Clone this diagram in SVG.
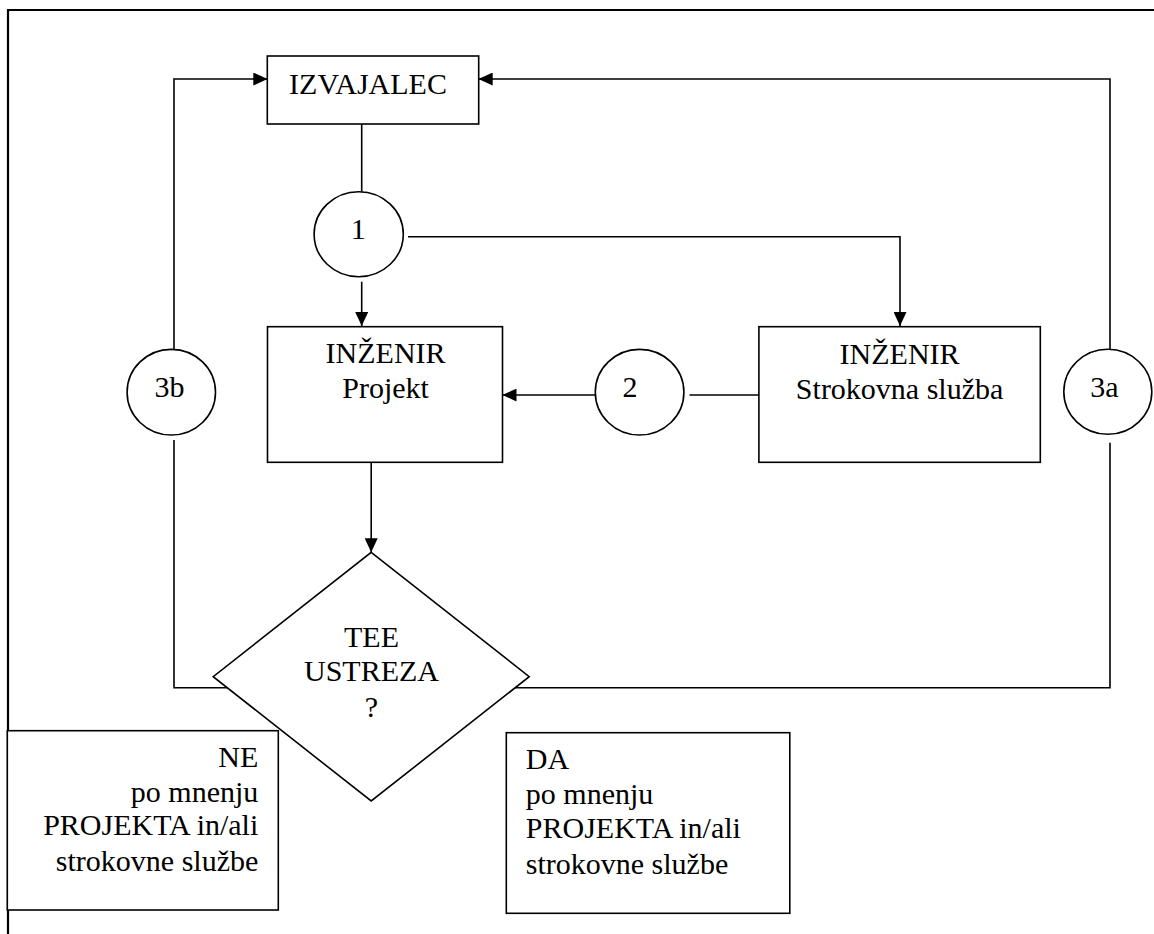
<svg xmlns="http://www.w3.org/2000/svg" width="1154" height="934" viewBox="0 0 1154 934">
<style>
.frame{fill:none;stroke:#000;stroke-width:2.2}
.box{fill:#fff;stroke:#000;stroke-width:1.6}
.ln{fill:none;stroke:#000;stroke-width:1.6}
.arr{marker-end:url(#ah)}
.t{font-size:30px;fill:#000}
.c{text-anchor:middle}
.r{text-anchor:end}
</style>
<defs>
<marker id="ah" markerUnits="userSpaceOnUse" markerWidth="14" markerHeight="13" refX="14" refY="6.5" orient="auto">
<path d="M0,0 L14,6.5 L0,13 Z" fill="#000"/>
</marker>
</defs>
<rect width="1154" height="934" fill="#fff"/>
<path class="frame" d="M8,940 V10 H1160"/>
<g id="connectors">
<path class="ln" d="M361.7,124 V191.7"/>
<path class="ln arr" d="M361.7,281.7 V326"/>
<path class="ln arr" d="M408,236.7 H900 V326"/>
<path class="ln arr" d="M595,395 H502.5"/>
<path class="ln" d="M689.5,395 H759"/>
<path class="ln arr" d="M371.2,462.3 V552.3"/>
<path class="ln arr" d="M174,349.3 V79 H267.3"/>
<path class="ln" d="M174,440 V687.7 H240"/>
<path class="ln arr" d="M1110,349.3 V79 H478.7"/>
<path class="ln" d="M1110,442.7 V687.7 H500"/>
</g>
<g id="izvajalec">
<rect class="box" x="267.3" y="56" width="211.4" height="68"/>
<text class="t c" font-family="Liberation Serif, serif" x="368" y="94">IZVAJALEC</text>
</g>
<g id="c1">
<ellipse class="box" cx="358.7" cy="234.2" rx="44.6" ry="42.5"/>
<text class="t c" font-family="Liberation Serif, serif" x="358.3" y="239">1</text>
</g>
<g id="projekt">
<rect class="box" x="267.5" y="326.7" width="235" height="135.6"/>
<text class="t c" font-family="Liberation Serif, serif" x="385.6" y="363.3">INŽENIR</text>
<text class="t c" font-family="Liberation Serif, serif" x="385.6" y="398.3">Projekt</text>
</g>
<g id="c2">
<ellipse class="box" cx="639.6" cy="392.2" rx="44.3" ry="42.8"/>
<text class="t c" font-family="Liberation Serif, serif" x="630" y="396.7">2</text>
</g>
<g id="strokovna">
<rect class="box" x="758.9" y="326.7" width="281.4" height="135.6"/>
<text class="t c" font-family="Liberation Serif, serif" x="899.6" y="364.3">INŽENIR</text>
<text class="t c" font-family="Liberation Serif, serif" x="899.6" y="399">Strokovna služba</text>
</g>
<g id="c3b">
<ellipse class="box" cx="171.3" cy="392.2" rx="44.2" ry="42.8"/>
<text class="t c" font-family="Liberation Serif, serif" x="169.5" y="397">3b</text>
</g>
<g id="c3a">
<ellipse class="box" cx="1107.8" cy="391.8" rx="44" ry="42.5"/>
<text class="t c" font-family="Liberation Serif, serif" x="1104.5" y="397.3">3a</text>
</g>
<g id="decision">
<polygon class="box" points="371.2,552.3 529.2,676.7 371.2,801 213.2,676.7"/>
<text class="t c" font-family="Liberation Serif, serif" x="371.5" y="646.7">TEE</text>
<text class="t c" font-family="Liberation Serif, serif" x="371.5" y="681">USTREZA</text>
<text class="t c" font-family="Liberation Serif, serif" x="371.5" y="716.7">?</text>
</g>
<g id="ne">
<rect class="box" x="7.3" y="730.7" width="271" height="179.3"/>
<text class="t r" font-family="Liberation Serif, serif" x="258.3" y="766.7">NE</text>
<text class="t r" font-family="Liberation Serif, serif" x="258.3" y="801.7">po mnenju</text>
<text class="t r" font-family="Liberation Serif, serif" x="258.3" y="835">PROJEKTA in/ali</text>
<text class="t r" font-family="Liberation Serif, serif" x="258.3" y="870.7">strokovne službe</text>
</g>
<g id="da">
<rect class="box" x="506.3" y="732.7" width="283.5" height="180.6"/>
<text class="t" font-family="Liberation Serif, serif" x="525.8" y="769.3">DA</text>
<text class="t" font-family="Liberation Serif, serif" x="525.8" y="804">po mnenju</text>
<text class="t" font-family="Liberation Serif, serif" x="525.8" y="838.3">PROJEKTA in/ali</text>
<text class="t" font-family="Liberation Serif, serif" x="525.8" y="874">strokovne službe</text>
</g>
</svg>
